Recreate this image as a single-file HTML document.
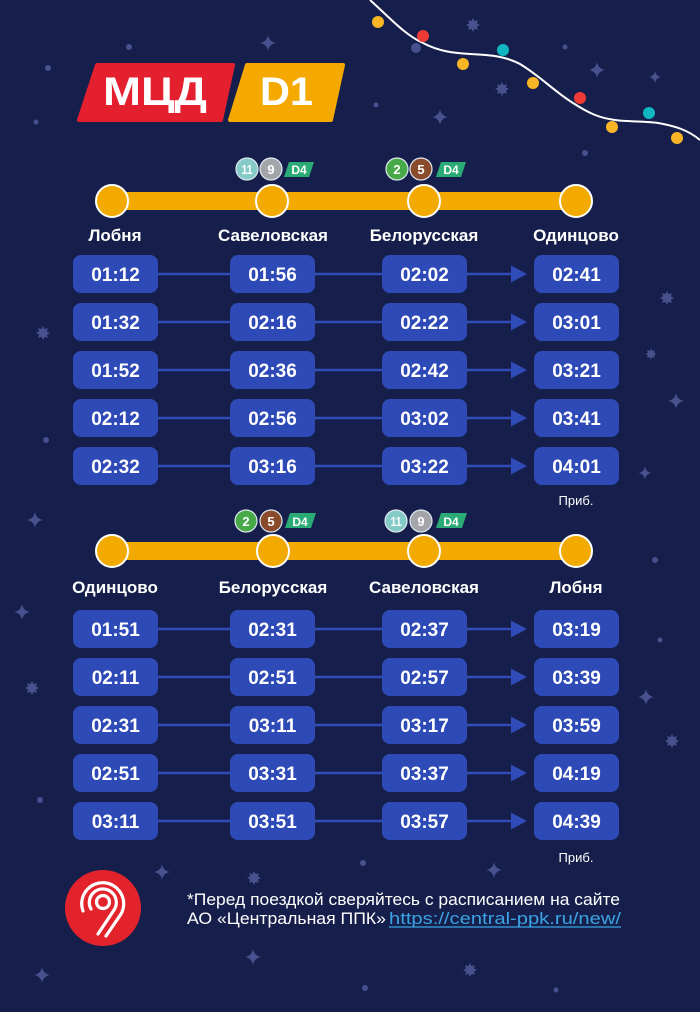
<!DOCTYPE html>
<html>
<head>
<meta charset="utf-8">
<style>
  html, body { margin: 0; padding: 0; background: #161f4b; }
  svg { display: block; }
  text { font-family: "Liberation Sans", "Noto Sans CJK SC", sans-serif; }
</style>
</head>
<body>
<svg width="700" height="1012" viewBox="0 0 700 1012" xmlns="http://www.w3.org/2000/svg">
  <defs>
    <path id="sp" d="M0,-8 Q1.2,-1.2 8,0 Q1.2,1.2 0,8 Q-1.2,1.2 -8,0 Q-1.2,-1.2 0,-8Z"/>
    <g id="sf">
      <path d="M0,-7 L1.6,-3.9 L4.9,-4.9 L3.9,-1.6 L7,0 L3.9,1.6 L4.9,4.9 L1.6,3.9 L0,7 L-1.6,3.9 L-4.9,4.9 L-3.9,1.6 L-7,0 L-3.9,-1.6 L-4.9,-4.9 L-1.6,-3.9Z"/>
    </g>
  </defs>

  <rect width="700" height="1012" fill="#161f4b"/>

  <!-- decorations -->
  <g fill="#46518d">
    <use href="#sp" x="268" y="43"/>
    <use href="#sp" x="440" y="117"/>
    <use href="#sp" x="597" y="70"/>
    <use href="#sp" x="655" y="77" transform="translate(655 77) scale(0.75) translate(-655 -77)"/>
    <use href="#sp" x="676" y="401"/>
    <use href="#sp" x="645" y="473" transform="translate(645 473) scale(0.8) translate(-645 -473)"/>
    <use href="#sp" x="35" y="520"/>
    <use href="#sp" x="22" y="612"/>
    <use href="#sp" x="646" y="697"/>
    <use href="#sp" x="162" y="872"/>
    <use href="#sp" x="494" y="870"/>
    <use href="#sp" x="253" y="957"/>
    <use href="#sp" x="42" y="975"/>
    <use href="#sf" x="473" y="25"/>
    <use href="#sf" x="502" y="89"/>
    <use href="#sf" x="667" y="298"/>
    <use href="#sf" x="651" y="354" transform="translate(651 354) scale(0.8) translate(-651 -354)"/>
    <use href="#sf" x="43" y="333"/>
    <use href="#sf" x="32" y="688"/>
    <use href="#sf" x="672" y="741"/>
    <use href="#sf" x="254" y="878"/>
    <use href="#sf" x="470" y="970"/>
    <circle cx="48" cy="68" r="3"/>
    <circle cx="36" cy="122" r="2.5"/>
    <circle cx="129" cy="47" r="3"/>
    <circle cx="376" cy="105" r="2.5"/>
    <circle cx="565" cy="47" r="2.5"/>
    <circle cx="416" cy="48" r="5"/>
    <circle cx="585" cy="153" r="3"/>
    <circle cx="46" cy="440" r="3"/>
    <circle cx="655" cy="560" r="3"/>
    <circle cx="660" cy="640" r="2.5"/>
    <circle cx="40" cy="800" r="3"/>
    <circle cx="363" cy="863" r="3"/>
    <circle cx="365" cy="988" r="3"/>
    <circle cx="556" cy="990" r="2.5"/>
  </g>

  <!-- garland -->
  <path d="M370,0 C390,18 405,35 423,43 C440,52 455,53 470,54 C490,55 505,56 520,64 C540,76 555,92 573,103 C590,114 600,118 615,120 C630,122 645,121 658,123 C675,126 688,130 700,140" fill="none" stroke="#ffffff" stroke-width="2"/>
  <g>
    <circle cx="378" cy="22" r="6" fill="#f8b626"/>
    <circle cx="423" cy="36" r="6" fill="#ef3b36"/>
    <circle cx="463" cy="64" r="6" fill="#f8b626"/>
    <circle cx="503" cy="50" r="6" fill="#10b6c2"/>
    <circle cx="533" cy="83" r="6" fill="#f8b626"/>
    <circle cx="580" cy="98" r="6" fill="#ef3b36"/>
    <circle cx="612" cy="127" r="6" fill="#f8b626"/>
    <circle cx="649" cy="113" r="6" fill="#10b6c2"/>
    <circle cx="677" cy="138" r="6" fill="#f8b626"/>
  </g>

  <!-- logo МЦД D1 -->
  <path d="M97,65 L233,65 L221,120 L79,120Z" fill="#e4202e" stroke="#e4202e" stroke-width="4" stroke-linejoin="round"/>
  <path d="M247,65 L343,65 L331,120 L230,120Z" fill="#f5a800" stroke="#f5a800" stroke-width="4" stroke-linejoin="round"/>
  <text x="103" y="105" font-size="40" font-weight="bold" fill="#ffffff" textLength="104" lengthAdjust="spacingAndGlyphs">МЦД</text>
  <text x="260" y="105" font-size="40" font-weight="bold" fill="#ffffff" textLength="53" lengthAdjust="spacingAndGlyphs">D1</text>

  <!-- ============ SECTION 1 ============ -->
  <!-- badges -->
  <g font-weight="bold" font-size="13" fill="#ffffff" text-anchor="middle">
    <circle cx="247" cy="169" r="11" fill="#84cbc8" stroke="#dfe9f0" stroke-width="1.2"/>
    <text x="247" y="174" textLength="11" lengthAdjust="spacingAndGlyphs">11</text>
    <circle cx="271" cy="169" r="11" fill="#a4a5ab" stroke="#dfe9f0" stroke-width="1.2"/>
    <text x="271" y="174">9</text>
    <path d="M289,162 L314,162 L309,177 L284,177Z" fill="#2bab76"/>
    <text x="299" y="174" font-size="12">D4</text>

    <circle cx="397" cy="169" r="11" fill="#47a948" stroke="#dfe9f0" stroke-width="1.2"/>
    <text x="397" y="174">2</text>
    <circle cx="421" cy="169" r="11" fill="#8a4a2c" stroke="#dfe9f0" stroke-width="1.2"/>
    <text x="421" y="174">5</text>
    <path d="M441,162 L466,162 L461,177 L436,177Z" fill="#2bab76"/>
    <text x="451" y="174" font-size="12">D4</text>
  </g>
  <!-- line -->
  <rect x="112" y="192" width="464" height="18" fill="#f2a900"/>
  <g fill="#f2a900" stroke="#ffffff" stroke-width="2">
    <circle cx="112" cy="201" r="16"/>
    <circle cx="272" cy="201" r="16"/>
    <circle cx="424" cy="201" r="16"/>
    <circle cx="576" cy="201" r="16"/>
  </g>
  <!-- station names -->
  <g font-size="17" font-weight="bold" fill="#ffffff" text-anchor="middle">
    <text x="115" y="241">Лобня</text>
    <text x="273" y="241">Савеловская</text>
    <text x="424" y="241">Белорусская</text>
    <text x="576" y="241">Одинцово</text>
  </g>

  <!-- connectors section 1 -->
  <g stroke="#2f4cb8" stroke-width="2.5">
    <line x1="158" y1="274" x2="230" y2="274"/><line x1="315" y1="274" x2="382" y2="274"/><line x1="467" y1="274" x2="514" y2="274"/>
    <line x1="158" y1="322" x2="230" y2="322"/><line x1="315" y1="322" x2="382" y2="322"/><line x1="467" y1="322" x2="514" y2="322"/>
    <line x1="158" y1="370" x2="230" y2="370"/><line x1="315" y1="370" x2="382" y2="370"/><line x1="467" y1="370" x2="514" y2="370"/>
    <line x1="158" y1="418" x2="230" y2="418"/><line x1="315" y1="418" x2="382" y2="418"/><line x1="467" y1="418" x2="514" y2="418"/>
    <line x1="158" y1="466" x2="230" y2="466"/><line x1="315" y1="466" x2="382" y2="466"/><line x1="467" y1="466" x2="514" y2="466"/>
  </g>
  <g fill="#2f4cb8">
    <path d="M511,265.5 L527,274 L511,282.5Z"/>
    <path d="M511,313.5 L527,322 L511,330.5Z"/>
    <path d="M511,361.5 L527,370 L511,378.5Z"/>
    <path d="M511,409.5 L527,418 L511,426.5Z"/>
    <path d="M511,457.5 L527,466 L511,474.5Z"/>
  </g>

  <!-- boxes section 1 -->
  <g fill="#2e4ab6">
    <rect x="73" y="255" width="85" height="38" rx="8"/><rect x="230" y="255" width="85" height="38" rx="8"/><rect x="382" y="255" width="85" height="38" rx="8"/><rect x="534" y="255" width="85" height="38" rx="8"/>
    <rect x="73" y="303" width="85" height="38" rx="8"/><rect x="230" y="303" width="85" height="38" rx="8"/><rect x="382" y="303" width="85" height="38" rx="8"/><rect x="534" y="303" width="85" height="38" rx="8"/>
    <rect x="73" y="351" width="85" height="38" rx="8"/><rect x="230" y="351" width="85" height="38" rx="8"/><rect x="382" y="351" width="85" height="38" rx="8"/><rect x="534" y="351" width="85" height="38" rx="8"/>
    <rect x="73" y="399" width="85" height="38" rx="8"/><rect x="230" y="399" width="85" height="38" rx="8"/><rect x="382" y="399" width="85" height="38" rx="8"/><rect x="534" y="399" width="85" height="38" rx="8"/>
    <rect x="73" y="447" width="85" height="38" rx="8"/><rect x="230" y="447" width="85" height="38" rx="8"/><rect x="382" y="447" width="85" height="38" rx="8"/><rect x="534" y="447" width="85" height="38" rx="8"/>
  </g>
  <g font-size="19" font-weight="bold" fill="#ffffff" text-anchor="middle">
    <text x="115.5" y="281">01:12</text><text x="272.5" y="281">01:56</text><text x="424.5" y="281">02:02</text><text x="576.5" y="281">02:41</text>
    <text x="115.5" y="329">01:32</text><text x="272.5" y="329">02:16</text><text x="424.5" y="329">02:22</text><text x="576.5" y="329">03:01</text>
    <text x="115.5" y="377">01:52</text><text x="272.5" y="377">02:36</text><text x="424.5" y="377">02:42</text><text x="576.5" y="377">03:21</text>
    <text x="115.5" y="425">02:12</text><text x="272.5" y="425">02:56</text><text x="424.5" y="425">03:02</text><text x="576.5" y="425">03:41</text>
    <text x="115.5" y="473">02:32</text><text x="272.5" y="473">03:16</text><text x="424.5" y="473">03:22</text><text x="576.5" y="473">04:01</text>
  </g>
  <text x="576" y="505" font-size="13" fill="#ffffff" text-anchor="middle">Приб.</text>

  <!-- ============ SECTION 2 ============ -->
  <g font-weight="bold" font-size="13" fill="#ffffff" text-anchor="middle">
    <circle cx="246" cy="521" r="11" fill="#47a948" stroke="#dfe9f0" stroke-width="1.2"/>
    <text x="246" y="526">2</text>
    <circle cx="271" cy="521" r="11" fill="#8a4a2c" stroke="#dfe9f0" stroke-width="1.2"/>
    <text x="271" y="526">5</text>
    <path d="M290,513 L316,513 L311,528 L285,528Z" fill="#2bab76"/>
    <text x="300" y="526" font-size="12">D4</text>

    <circle cx="396" cy="521" r="11" fill="#84cbc8" stroke="#dfe9f0" stroke-width="1.2"/>
    <text x="396" y="526" textLength="11" lengthAdjust="spacingAndGlyphs">11</text>
    <circle cx="421" cy="521" r="11" fill="#a4a5ab" stroke="#dfe9f0" stroke-width="1.2"/>
    <text x="421" y="526">9</text>
    <path d="M441,513 L467,513 L462,528 L436,528Z" fill="#2bab76"/>
    <text x="451" y="526" font-size="12">D4</text>
  </g>
  <rect x="112" y="542" width="464" height="18" fill="#f2a900"/>
  <g fill="#f2a900" stroke="#ffffff" stroke-width="2">
    <circle cx="112" cy="551" r="16"/>
    <circle cx="273" cy="551" r="16"/>
    <circle cx="424" cy="551" r="16"/>
    <circle cx="576" cy="551" r="16"/>
  </g>
  <g font-size="17" font-weight="bold" fill="#ffffff" text-anchor="middle">
    <text x="115" y="593">Одинцово</text>
    <text x="273" y="593">Белорусская</text>
    <text x="424" y="593">Савеловская</text>
    <text x="576" y="593">Лобня</text>
  </g>

  <g stroke="#2f4cb8" stroke-width="2.5">
    <line x1="158" y1="629" x2="230" y2="629"/><line x1="315" y1="629" x2="382" y2="629"/><line x1="467" y1="629" x2="514" y2="629"/>
    <line x1="158" y1="677" x2="230" y2="677"/><line x1="315" y1="677" x2="382" y2="677"/><line x1="467" y1="677" x2="514" y2="677"/>
    <line x1="158" y1="725" x2="230" y2="725"/><line x1="315" y1="725" x2="382" y2="725"/><line x1="467" y1="725" x2="514" y2="725"/>
    <line x1="158" y1="773" x2="230" y2="773"/><line x1="315" y1="773" x2="382" y2="773"/><line x1="467" y1="773" x2="514" y2="773"/>
    <line x1="158" y1="821" x2="230" y2="821"/><line x1="315" y1="821" x2="382" y2="821"/><line x1="467" y1="821" x2="514" y2="821"/>
  </g>
  <g fill="#2f4cb8">
    <path d="M511,620.5 L527,629 L511,637.5Z"/>
    <path d="M511,668.5 L527,677 L511,685.5Z"/>
    <path d="M511,716.5 L527,725 L511,733.5Z"/>
    <path d="M511,764.5 L527,773 L511,781.5Z"/>
    <path d="M511,812.5 L527,821 L511,829.5Z"/>
  </g>

  <g fill="#2e4ab6">
    <rect x="73" y="610" width="85" height="38" rx="8"/><rect x="230" y="610" width="85" height="38" rx="8"/><rect x="382" y="610" width="85" height="38" rx="8"/><rect x="534" y="610" width="85" height="38" rx="8"/>
    <rect x="73" y="658" width="85" height="38" rx="8"/><rect x="230" y="658" width="85" height="38" rx="8"/><rect x="382" y="658" width="85" height="38" rx="8"/><rect x="534" y="658" width="85" height="38" rx="8"/>
    <rect x="73" y="706" width="85" height="38" rx="8"/><rect x="230" y="706" width="85" height="38" rx="8"/><rect x="382" y="706" width="85" height="38" rx="8"/><rect x="534" y="706" width="85" height="38" rx="8"/>
    <rect x="73" y="754" width="85" height="38" rx="8"/><rect x="230" y="754" width="85" height="38" rx="8"/><rect x="382" y="754" width="85" height="38" rx="8"/><rect x="534" y="754" width="85" height="38" rx="8"/>
    <rect x="73" y="802" width="85" height="38" rx="8"/><rect x="230" y="802" width="85" height="38" rx="8"/><rect x="382" y="802" width="85" height="38" rx="8"/><rect x="534" y="802" width="85" height="38" rx="8"/>
  </g>
  <g font-size="19" font-weight="bold" fill="#ffffff" text-anchor="middle">
    <text x="115.5" y="636">01:51</text><text x="272.5" y="636">02:31</text><text x="424.5" y="636">02:37</text><text x="576.5" y="636">03:19</text>
    <text x="115.5" y="684">02:11</text><text x="272.5" y="684">02:51</text><text x="424.5" y="684">02:57</text><text x="576.5" y="684">03:39</text>
    <text x="115.5" y="732">02:31</text><text x="272.5" y="732">03:11</text><text x="424.5" y="732">03:17</text><text x="576.5" y="732">03:59</text>
    <text x="115.5" y="780">02:51</text><text x="272.5" y="780">03:31</text><text x="424.5" y="780">03:37</text><text x="576.5" y="780">04:19</text>
    <text x="115.5" y="828">03:11</text><text x="272.5" y="828">03:51</text><text x="424.5" y="828">03:57</text><text x="576.5" y="828">04:39</text>
  </g>
  <text x="576" y="862" font-size="13" fill="#ffffff" text-anchor="middle">Приб.</text>

  <!-- ============ FOOTER ============ -->
  <circle cx="103" cy="908" r="38" fill="#e3232c"/>
  <g fill="none" stroke="#ffffff" stroke-width="3.2" stroke-linecap="round">
    <circle cx="103" cy="902" r="6.5"/>
    <path d="M91,909 A13.5,13.5 0 1 1 114,910 L98,934"/>
    <path d="M83,911 A21,21 0 1 1 121,914 L106,936"/>
  </g>

  <text x="187" y="905" font-size="16.5" fill="#ffffff" textLength="433" lengthAdjust="spacingAndGlyphs">*Перед поездкой сверяйтесь с расписанием на сайте</text>
  <text x="187" y="924" font-size="16.5" fill="#ffffff" textLength="199" lengthAdjust="spacingAndGlyphs">АО «Центральная ППК»</text>
  <text x="389" y="924" font-size="16.5" fill="#3aa3e3" textLength="232" lengthAdjust="spacingAndGlyphs">https://central-ppk.ru/new/</text>
  <line x1="389" y1="927" x2="621" y2="927" stroke="#3aa3e3" stroke-width="1.2"/>
</svg>
</body>
</html>
